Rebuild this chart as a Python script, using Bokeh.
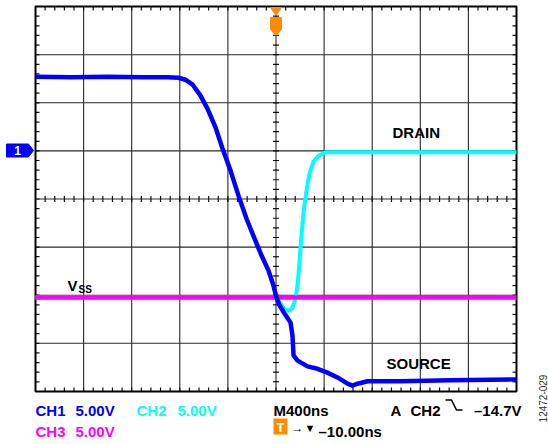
import numpy as np
from bokeh.plotting import figure
from bokeh.models import Range1d
from bokeh.core.properties import value
from bokeh.embed import file_html
from bokeh.resources import INLINE

# ---------------- data ----------------
# time in ns relative to trigger (400 ns/div), amplitude in screen divisions (5 V/div)
NS_PER_DIV = 400
ch1_t = [-2000, -1700, -1400, -1100, -900, -811, -753, -694, -628, -570, -503, -445,
         -378, -312, -245, -179, -121, -62, -21, 4, 29, 71, 121, 137, 146, 179, 262,
         345, 428, 511, 595, 636, 678, 761, 1035, 1451, 2000]
ch1_y = [2.54, 2.53, 2.54, 2.53, 2.53, 2.52, 2.48, 2.38, 2.15, 1.88, 1.49, 1.05,
         0.59, 0.07, -0.41, -0.82, -1.17, -1.49, -1.80, -2.05, -2.21, -2.38, -2.57,
         -2.84, -3.25, -3.36, -3.48, -3.53, -3.61, -3.71, -3.84, -3.88, -3.84, -3.79,
         -3.79, -3.77, -3.75]
ch2_t = [-2000, 4, 37, 71, 112, 137, 162, 179, 195, 212, 229, 254, 279, 312, 353, 412, 2000]
ch2_y = [-2.05, -2.05, -2.17, -2.30, -2.32, -2.26, -2.07, -1.80, -1.32, -0.76, -0.28,
         0.18, 0.53, 0.78, 0.90, 0.97, 0.97]
ch3_t = [-2000, 2000]
ch3_y = [-2.05, -2.05]

ch_labels = ["CH1", "CH2", "CH3"]
ch_scales = ["5.00V", "5.00V", "5.00V"]
timebase = "M400ns"
trig_src = "CH2"
trig_level = "\u201314.7V"
trig_delay = "\u201310.00ns"
fig_id = "12472-029"

# ---------------- geometry helpers ----------------
W, H = 548, 444
PX = 48.1
CX, CY = 275.5, 198.5
NDX, NDY = 10, 8


def xd(px):
    return (px - CX) / PX * NS_PER_DIV


def yd(py):
    return (CY - py) / PX


p = figure(width=W, height=H, x_range=Range1d(xd(0), xd(W)), y_range=Range1d(yd(H), yd(0)),
           output_backend="svg", toolbar_location=None,
           x_axis_location=None, y_axis_location=None, min_border=0,
           outline_line_color=None, background_fill_color="white",
           border_fill_color="white")
for g in p.grid:
    g.visible = False

X0, X1 = -NDX / 2 * NS_PER_DIV, NDX / 2 * NS_PER_DIV
Y0, Y1 = -NDY / 2, NDY / 2

# grid
gx = [X0 + NS_PER_DIV * k for k in range(1, NDX)]
gy = [Y0 + k for k in range(1, NDY)]
p.segment(x0=gx, y0=[Y0] * len(gx), x1=gx, y1=[Y1] * len(gx), line_color="#2a2a2a", line_width=1.1)
p.segment(x0=[X0] * len(gy), y0=gy, x1=[X1] * len(gy), y1=gy, line_color="#2a2a2a", line_width=1.1)

# minor ticks
tx = 4 / PX * NS_PER_DIV
ty = 4 / PX
mx = [X0 + NS_PER_DIV * 0.2 * k for k in range(1, NDX * 5)]
my = [Y0 + 0.2 * k for k in range(1, NDY * 5)]
n, m = len(mx), len(my)
tick_style = dict(line_color="#111111", line_width=1.2)
p.segment(x0=mx, y0=[Y1] * n, x1=mx, y1=[Y1 - ty] * n, **tick_style)
p.segment(x0=mx, y0=[Y0] * n, x1=mx, y1=[Y0 + ty] * n, **tick_style)
p.segment(x0=[X0] * m, y0=my, x1=[X0 + tx] * m, y1=my, **tick_style)
p.segment(x0=[X1] * m, y0=my, x1=[X1 - tx] * m, y1=my, **tick_style)
p.segment(x0=mx, y0=[-0.75 * ty] * n, x1=mx, y1=[0.75 * ty] * n, **tick_style)
p.segment(x0=[-0.75 * tx] * m, y0=my, x1=[0.75 * tx] * m, y1=my, **tick_style)

# border
p.quad(left=X0, right=X1, bottom=Y0, top=Y1, fill_color=None, line_color="black", line_width=2)

# traces
p.line(ch2_t, ch2_y, line_color="#00ffff", line_width=4, line_join="round")
p.line(ch3_t, ch3_y, line_color="#ff00ff", line_width=4.5)
p.line(ch1_t, ch1_y, line_color="#0000ff", line_width=4.5, line_join="round")

FONT = value("Liberation Sans")


def txt(px, py, s, color="black", size="15px", style="bold", align="left", baseline="alphabetic", angle=0.0):
    p.text(x=[xd(px)], y=[yd(py)], text=[s], text_font=FONT, text_font_size=size,
           text_font_style=style, text_color=color, text_align=align,
           text_baseline=baseline, angle=angle)


# in-plot labels
txt(392, 132, "DRAIN")
txt(386, 363, "SOURCE")
txt(67, 285, "V")
txt(78, 289, "SS", size="10px")

# channel 1 ground marker
mk1x = [6, 28, 33, 28, 6]
mk1y = [143.5, 143.5, 150, 156.5, 156.5]
p.patch([xd(v) for v in mk1x], [yd(v) for v in mk1y], fill_color="#0000ff", line_color="#0000ff")
txt(17, 150, "1", color="white", size="12px", align="center", baseline="middle")

# trigger marker
p.patch([xd(v) for v in [270, 281, 275.5]], [yd(v) for v in [7, 7, 15]], fill_color="#ff8c00", line_color="#ff8c00")
p.patch([xd(v) for v in [270, 281, 281, 275.5, 270]], [yd(v) for v in [17, 17, 29, 35, 29]],
        fill_color="#ff8c00", line_color="#ff8c00")

# bottom readout
r1, r2 = 410, 431
txt(35, r1, ch_labels[0], color="#0000ff")
txt(75, r1, ch_scales[0], color="#0000ff")
txt(136, r1, ch_labels[1], color="#00ffff")
txt(177, r1, ch_scales[1], color="#00ffff")
txt(35, r2, ch_labels[2], color="#ff00ff")
txt(75, r2, ch_scales[2], color="#ff00ff")
txt(273, r1, timebase)
txt(390, r1, "A")
txt(410, r1, trig_src)
ex = [445, 451, 456, 462]
ey = [399.5, 399.5, 409.5, 409.5]
p.line([xd(v) for v in ex], [yd(v) for v in ey], line_color="black", line_width=1.6)
txt(521, r1, trig_level, align="right")

p.quad(left=xd(273), right=xd(287), top=yd(418), bottom=yd(434), fill_color="#ff8c00", line_color=None)
txt(280, 426.5, "T", color="white", size="13px", align="center", baseline="middle")
txt(291, 427, "\u2192", size="12px", baseline="middle")
txt(304, 427, "\u25bc", size="11px", baseline="middle")
txt(318, r2, trig_delay)

txt(542, 398, fig_id, color="#333333", size="10px", style="normal", align="center",
    baseline="middle", angle=np.pi / 2)

open("out.html", "w").write(file_html(p, INLINE))
